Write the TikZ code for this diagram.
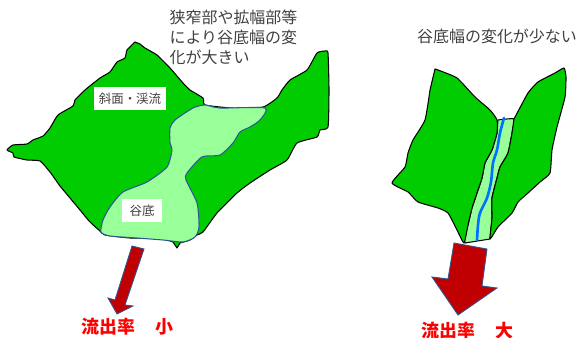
\documentclass[tikz,border=0pt]{standalone}
\usepackage{fontspec}
\setmainfont{Noto Sans CJK JP}
\usetikzlibrary{positioning}

\begin{document}
\begin{tikzpicture}[
    x=0.02cm, y=-0.02cm,
    slope/.style={draw=black, fill=slopegreen, line width=0.6pt, line join=round},
    floor/.style={draw=floorblue, fill=floorgreen, line width=0.6pt, line join=round},
    stream/.style={draw=streamblue, line width=1.5pt, line cap=round},
    flow/.style={draw=floorblue, fill=flowred, line width=0.5pt, line join=miter},
    note/.style={text=notegray, font=\fontsize{9.1}{11.3}\selectfont, align=left, inner sep=0pt},
    tag/.style={fill=white, text=notegray, font=\fontsize{7.1}{8.5}\selectfont, inner sep=0pt},
    rate/.style={text=red, font=\fontsize{10.2}{12}\selectfont\bfseries, inner sep=0pt}
]
\definecolor{slopegreen}{HTML}{00CC00}
\definecolor{floorgreen}{HTML}{99FF99}
\definecolor{floorblue}{HTML}{2F5597}
\definecolor{streamblue}{HTML}{0070FF}
\definecolor{flowred}{HTML}{C00000}
\definecolor{notegray}{HTML}{404040}
\useasboundingbox (0,0) rectangle (578,338);

% wide valley
\draw[slope] plot[smooth, tension=0.3] coordinates {
    (135,42) (127,50) (125,58) (117,62) (110,72) (100,78) (85,90) (75,100) (73,106)
    (58,115) (50,128) (43,136) (33,140) (27,144) (13,145) (7,150) (13,153) (14,157)
    (27,160) (40,161) (50,172) (60,186) (70,198) (80,210) (90,222) (100,231) (105,235)
    (130,238) (160,238) (173,242)} -- (177,248) -- plot[smooth, tension=0.3] coordinates {
    (180,243) (190,240) (197,235) (203,232) (217,213) (237,193) (250,183) (270,170)
    (287,160) (297,143) (317,137) (320,130) (328,127) (329,90) (328,53) (325,51)
    (317,53) (307,70) (290,80) (282,90) (277,98) (263,107) (232,108) (205,105) (203,98)
    (190,90) (183,83) (170,68) (157,55) (145,48) (140,44)} -- cycle;
\draw[floor] plot[smooth cycle, tension=0.4] coordinates {
    (205,105) (220,108) (265,108) (260,120) (250,127) (240,132) (233,143) (220,155)
    (202,157) (187,173) (186,180) (197,203) (199,227) (195,237) (183,242) (163,240)
    (137,238) (110,236) (101,232) (103,220) (110,207) (123,192) (147,182) (167,167)
    (172,150) (170,143) (170,128) (175,120) (193,108)};

% narrow valley
\draw[floor, draw=black] plot[smooth, tension=0.3] coordinates {
    (498,120) (514,119) (512,133) (508,153) (500,167) (497,178) (492,198) (492,218) (490,239)}
    -- (465,243) -- plot[smooth, tension=0.3] coordinates {
    (464,238) (468,225) (472,208) (477,193) (482,178) (485,163) (492,150) (497,133)} -- cycle;
\draw[slope] plot[smooth, tension=0.3] coordinates {
    (435,69) (438,70) (457,78) (475,97) (490,110) (497,120) (497,133) (492,150) (485,163)
    (482,178) (477,193) (472,208) (468,225) (464,243) (457,230) (448,213) (438,208) (418,202)
    (408,192) (392,183) (405,167) (408,153) (413,140) (425,120) (430,90)} -- cycle;
\draw[slope] plot[smooth, tension=0.3] coordinates {
    (514,119) (528,93) (538,82) (555,73) (564,68) (566,77) (565,97) (557,127) (552,150)
    (550,173) (540,182) (528,193) (518,202) (512,213) (498,227) (490,239) (492,218)
    (492,198) (497,178) (500,167) (508,153) (512,133)} -- cycle;
\draw[stream] plot[smooth, tension=0.5] coordinates {
    (504,118) (500,133) (497,150) (493,163) (491,182) (487,198) (480,213) (478,225) (477,240)};

% outflow arrows
\draw[flow] (132,246) -- (144,249) -- (125,305) -- (133,306) -- (117,314) -- (108,298) -- (115,300) -- cycle;
\draw[flow] (454,243) -- (487,249) -- (482,286) -- (497,288) -- (458,315) -- (432,277) -- (448,279) -- cycle;

% labels
\node[note] (wideNote) at (233.5,37.5) {狭窄部や拡幅部等\\により谷底幅の変\\化が大きい};
\node[note] (narrowNote) at (497,36) {谷底幅の変化が少ない};
\node[tag, minimum width=1.44cm, minimum height=0.46cm] (slopeTag) at (130,98.5) {斜面・渓流};
\node[tag, minimum width=0.8cm, minimum height=0.46cm] (floorTag) at (142,210.5) {谷底};
\node[rate, anchor=west] (lowRate) at (81,327) {流出率　\hspace{1.2pt}小};
\node[rate, anchor=west] (highRate) at (421,331) {流出率　\hspace{1.2pt}大};
\end{tikzpicture}
\end{document}
